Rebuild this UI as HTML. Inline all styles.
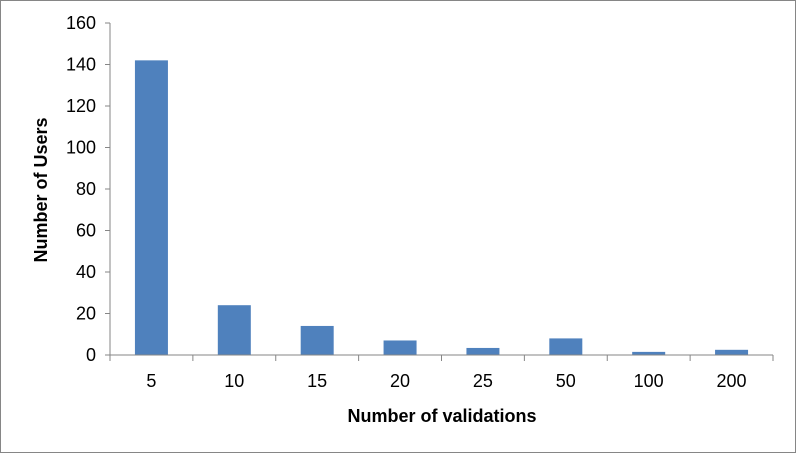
<!DOCTYPE html>
<html><head><meta charset="utf-8"><style>
body{margin:0;background:#fff;}
svg text{font-family:"Liberation Sans",sans-serif;fill:#000;}
</style></head><body>
<svg id="c" width="796" height="453" xmlns="http://www.w3.org/2000/svg">
<rect x="0.5" y="0.5" width="795" height="452" fill="#fff" stroke="#868686"/>
<g id="g"></g>
<text x="442" y="422" text-anchor="middle" font-size="18" font-weight="bold">Number of validations</text>
<text transform="translate(47,190) rotate(-90)" text-anchor="middle" font-size="18" font-weight="bold">Number of Users</text>
</svg>
<script>
const categories=["5","10","15","20","25","50","100","200"];
const values=[142,24,14,7,3.4,8,1.5,2.5];
const yTicks=[0,20,40,60,80,100,120,140,160];
const L=110,R=773,T=23,B=355,yMax=160;
const ns="http://www.w3.org/2000/svg";
const g=document.getElementById('g');
const band=(R-L)/categories.length;
const y=v=>B-(v/yMax)*(B-T);
function mk(t,a){const e=document.createElementNS(ns,t);for(const k in a)e.setAttribute(k,a[k]);g.appendChild(e);return e;}
yTicks.forEach(v=>{
  const l=mk('line',{x1:L-5,x2:L,y1:y(v),y2:y(v),stroke:'#868686'});
  
  
  const t=mk('text',{x:96,y:y(v)+6,'text-anchor':'end','font-size':18});
  t.textContent=v;
  
  
});
categories.forEach((c,i)=>{
  const bw=33,cx=L+band*(i+0.5);
  const r=mk('rect',{x:cx-bw/2,y:y(values[i]),width:bw,height:B-y(values[i]),fill:'#4f81bd'});
  
  
  const t=mk('text',{x:cx,y:387,'text-anchor':'middle','font-size':18});
  t.textContent=c;
  
  
});
for(let i=0;i<=categories.length;i++){
  const x=L+band*i;
  const l=mk('line',{x1:x,x2:x,y1:B,y2:B+6,stroke:'#868686'});
  
  
}
const ya=mk('line',{x1:L,x2:L,y1:T,y2:B,stroke:'#868686'});


const xa=mk('line',{x1:L,x2:R,y1:B,y2:B,stroke:'#868686'});


</script>
</body></html>
